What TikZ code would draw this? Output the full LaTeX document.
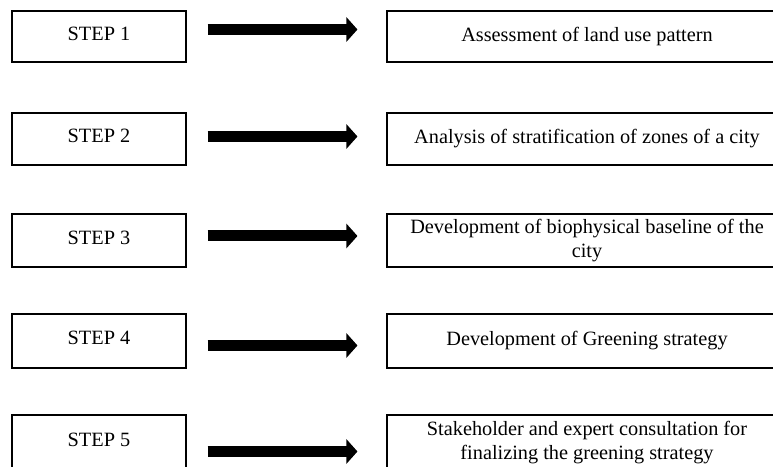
\documentclass[tikz,border=0pt]{standalone}
\usepackage{fontspec}
\setmainfont{Liberation Serif}
\usetikzlibrary{arrows.meta}

\begin{document}
\begin{tikzpicture}[x=1pt,y=1pt]
	% Set styles
	\tikzset{step box/.style={draw, line width=1.1pt, minimum width=174pt, inner sep=0pt, text depth=6pt, font=\fontsize{20.3}{24}\selectfont},
		task box/.style={draw, line width=1.1pt, minimum width=400pt, inner sep=0pt, align=center, font=\fontsize{20.3}{24}\selectfont},
		big arrow/.style={line width=11pt, -{Triangle[length=11pt, width=24pt]}}}
	
	% Page frame
	\useasboundingbox (0,0) rectangle (773,466);
	\clip (0,0) rectangle (773,466);
	
	% Steps on the left
	\node [step box, minimum height=51pt] (s1) at (99,429.5) {STEP 1};
	\node [step box, minimum height=52pt] (s2) at (99,327) {STEP 2};
	\node [step box, minimum height=53pt] (s3) at (99,225.5) {STEP 3};
	\node [step box, minimum height=54pt] (s4) at (99,125) {STEP 4};
	\node [step box, minimum height=56pt] (s5) at (99,23) {STEP 5};
	
	% Tasks on the right
	\node [task box, minimum height=51pt] (t1) at (587,429.5) {Assessment of land use pattern};
	\node [task box, minimum height=52pt] (t2) at (587,327) {Analysis of stratification of zones of a city};
	\node [task box, minimum height=53pt] (t3) at (587,225.5) {Development of biophysical baseline of the\\ city};
	\node [task box, minimum height=54pt] (t4) at (587,125) {Development of Greening strategy};
	\node [task box, minimum height=56pt] (t5) at (587,23) {Stakeholder and expert consultation for\\ finalizing the greening strategy};
	
	% Arrows between them
	\draw [big arrow] ([xshift=21pt,yshift=7pt]s1.east) -- ([xshift=-29pt,yshift=7pt]t1.west);
	\draw [big arrow] ([xshift=21pt,yshift=2.5pt]s2.east) -- ([xshift=-29pt,yshift=2.5pt]t2.west);
	\draw [big arrow] ([xshift=21pt,yshift=4.5pt]s3.east) -- ([xshift=-29pt,yshift=4.5pt]t3.west);
	\draw [big arrow] ([xshift=21pt,yshift=-4.5pt]s4.east) -- ([xshift=-29pt,yshift=-4.5pt]t4.west);
	\draw [big arrow] ([xshift=21pt,yshift=-8.5pt]s5.east) -- ([xshift=-29pt,yshift=-8.5pt]t5.west);
	
\end{tikzpicture}
\end{document}
